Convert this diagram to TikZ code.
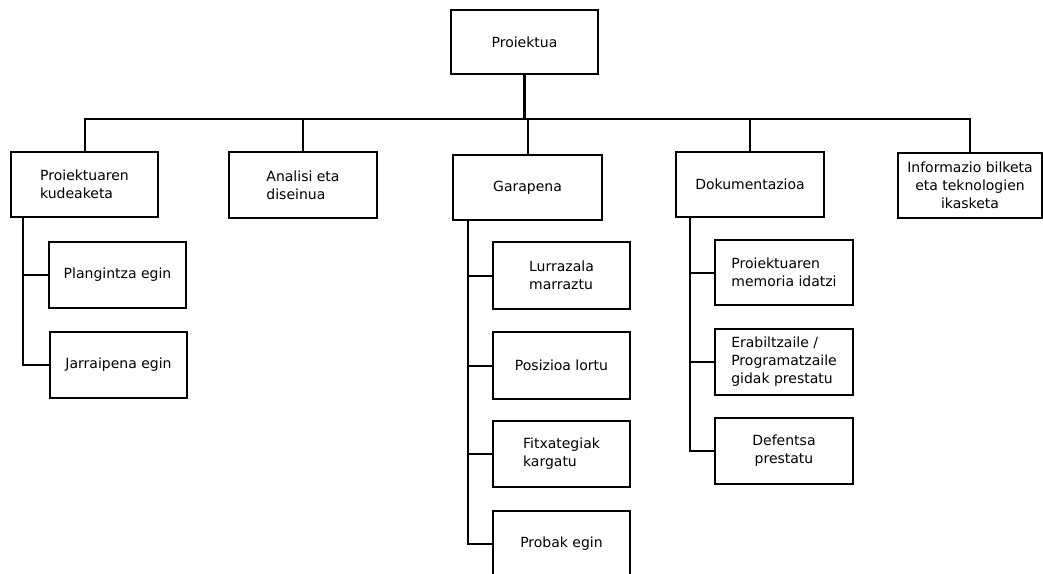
\documentclass[tikz,border=0pt]{standalone}
\usepackage{fontspec}
\setmainfont{DejaVu Sans}
\begin{document}
\begin{tikzpicture}[x=1pt,y=-1pt,
  box/.style={draw, line width=2pt, inner sep=0pt, align=left,
              font=\fontsize{14}{18}\selectfont},
  link/.style={line width=2pt},
  stem/.style={line width=3pt}]
\useasboundingbox (0,0) rectangle (1043,573);

% root
\node[box, line width=2.5pt, minimum width=147pt, minimum height=64pt] (root) at (524.5,42) {Proiektua};

% first level
\node[box, minimum width=147pt, minimum height=65pt] (kud)  at (84.5,184.5) {Proiektuaren\\kudeaketa};
\node[box, minimum width=148pt, minimum height=66pt] (anal) at (303,185)    {Analisi eta\\diseinua};
\node[box, minimum width=149pt, minimum height=65pt] (gar)  at (527.5,187.5) {Garapena};
\node[box, minimum width=148pt, minimum height=65pt] (dok)  at (750,184.5)  {Dokumentazioa};
\node[box, align=center, minimum width=144pt, minimum height=65pt] (info) at (970,185.5) {Informazio bilketa\\eta teknologien\\ikasketa};

% project management tasks
\node[box, minimum width=137pt, minimum height=66pt] (plan) at (117.5,275) {Plangintza egin};
\node[box, minimum width=137pt, minimum height=66pt] (jarr) at (118.5,365) {Jarraipena egin};

% development tasks
\node[box, minimum width=137pt, minimum height=67pt] (lurr) at (561.5,275.5) {Lurrazala\\marraztu};
\node[box, minimum width=137pt, minimum height=67pt] (posi) at (561.5,365.5) {Posizioa lortu};
\node[box, minimum width=137pt, minimum height=66pt] (fitx) at (561.5,454)   {Fitxategiak\\kargatu};
\node[box, minimum width=137pt, minimum height=66pt] (prob) at (561.5,544)   {Probak egin};

% documentation tasks
\node[box, minimum width=138pt, minimum height=65pt] (memo) at (784,272.5) {Proiektuaren\\memoria idatzi};
\node[box, minimum width=138pt, minimum height=66pt] (erab) at (784,362)   {Erabiltzaile /\\Programatzaile\\gidak prestatu};
\node[box, align=center, minimum width=138pt, minimum height=66pt] (defe) at (784,451) {Defentsa\\prestatu};

% root to first level
\coordinate (bus) at (524.5,119);
\draw[stem] (root.south) -- (bus);
\draw[link] (bus) -| (kud.north);
\draw[link] (bus) -| (anal.north);
\draw[link] (bus) -| (gar.north);
\draw[link] (bus) -| (dok.north);
\draw[link] (bus) -| (info.north);

% trunks to the task lists
\coordinate (kudT) at (23,217);
\coordinate (garT) at (468,220);
\coordinate (dokT) at (690,217);
\draw[link] (kudT) |- (plan.west);
\draw[link] (kudT) |- (jarr.west);
\draw[link] (garT) |- (lurr.west);
\draw[link] (garT) |- (posi.west);
\draw[link] (garT) |- (fitx.west);
\draw[link] (garT) |- (prob.west);
\draw[link] (dokT) |- (memo.west);
\draw[link] (dokT) |- (erab.west);
\draw[link] (dokT) |- (defe.west);
\end{tikzpicture}
\end{document}
